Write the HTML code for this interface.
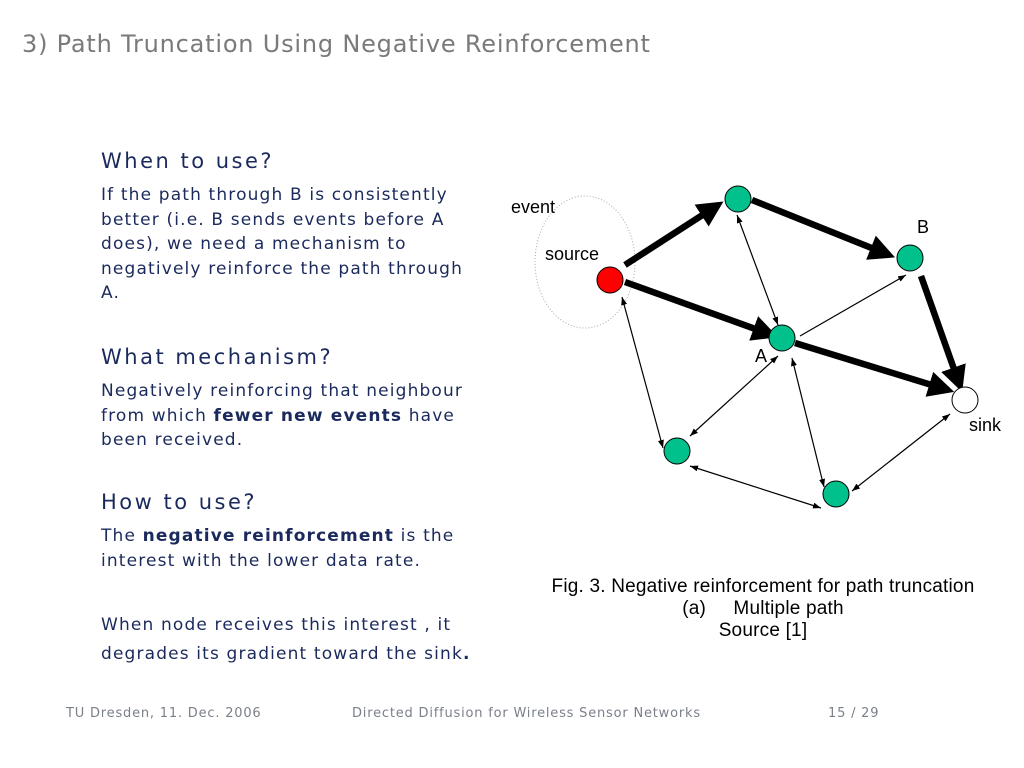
<!DOCTYPE html>
<html><head><meta charset="utf-8"><style>
body{margin:0;width:1024px;height:768px;background:#fff;position:relative;overflow:hidden;font-family:"DejaVu Sans","Liberation Sans",sans-serif;}
.t{position:absolute;white-space:nowrap;}
h1{position:absolute;left:22px;top:30px;margin:0;font-weight:normal;font-size:24px;color:#7a7a7a;letter-spacing:0.8px;}
.h{font-size:21px;color:#1b2a5c;letter-spacing:2.5px;}
.b{font-size:17px;color:#1b2a5c;line-height:24.5px;letter-spacing:1.15px;}
.f{font-size:13px;color:#7a7f8a;letter-spacing:0.8px;}
.d{font-family:"Liberation Sans",sans-serif;font-size:18px;color:#000;}
</style></head><body>
<h1>3) Path Truncation Using Negative Reinforcement</h1>
<div class="t h" style="left:101px;top:149px">When to use?</div>
<div class="t b" style="left:101px;top:183px">If the path through B is consistently<br>better (i.e. B sends events before A<br>does), we need a mechanism to<br>negatively reinforce the path through<br>A.</div>
<div class="t h" style="left:101px;top:345px">What mechanism?</div>
<div class="t b" style="left:101px;top:379px">Negatively reinforcing that neighbour<br>from which <b>fewer new events</b> have<br>been received.</div>
<div class="t h" style="left:101px;top:490px">How to use?</div>
<div class="t b" style="left:101px;top:524px">The <b>negative reinforcement</b> is the<br>interest with the lower data rate.</div>
<div class="t b" style="left:101px;top:611px;line-height:29px">When node receives this interest , it<br>degrades its gradient toward the sink<b>.</b></div>
<div class="t f" style="left:66px;top:706px">TU Dresden, 11. Dec. 2006</div>
<div class="t f" style="left:352px;top:706px">Directed Diffusion for Wireless Sensor Networks</div>
<div class="t f" style="left:828px;top:706px">15 / 29</div>
<svg width="1024" height="768" style="position:absolute;left:0;top:0">
<defs>
<marker id="big" markerWidth="4" markerHeight="4" refX="3" refY="2" orient="auto" markerUnits="strokeWidth"><path d="M0,0 L4,2 L0,4 z"/></marker>
<marker id="sm" markerWidth="8" markerHeight="6" refX="8" refY="3" orient="auto-start-reverse" markerUnits="userSpaceOnUse"><path d="M0,0 L8,3 L0,6 z"/></marker>
</defs>
<ellipse cx="585" cy="262" rx="50" ry="66" fill="none" stroke="#aaa" stroke-dasharray="1,2"/>
<g stroke="#000" stroke-width="1.2" fill="none">
<line x1="778" y1="325" x2="737" y2="215" marker-end="url(#sm)" marker-start="url(#sm)"/>
<line x1="800" y1="336" x2="906" y2="275" marker-end="url(#sm)"/>
<line x1="622" y1="297" x2="663" y2="448" marker-end="url(#sm)" marker-start="url(#sm)"/>
<line x1="690" y1="436" x2="778" y2="356" marker-end="url(#sm)" marker-start="url(#sm)"/>
<line x1="792" y1="358" x2="824" y2="487" marker-end="url(#sm)" marker-start="url(#sm)"/>
<line x1="690" y1="466" x2="821" y2="508" marker-end="url(#sm)" marker-start="url(#sm)"/>
<line x1="852" y1="491" x2="950" y2="414" marker-end="url(#sm)" marker-start="url(#sm)"/>
</g>
<g stroke="#000" stroke-width="6.5" fill="none">
<line x1="625" y1="265" x2="718" y2="205" marker-end="url(#big)"/>
<line x1="752" y1="200" x2="889" y2="255" marker-end="url(#big)"/>
<line x1="625" y1="282" x2="772" y2="335" marker-end="url(#big)"/>
<line x1="795" y1="343" x2="948" y2="390" marker-end="url(#big)"/>
<line x1="921" y1="276" x2="960" y2="386" marker-end="url(#big)"/>
</g>
<g stroke="#000" stroke-width="1">
<circle cx="738" cy="199" r="13" fill="#00c08b"/>
<circle cx="910" cy="258" r="13" fill="#00c08b"/>
<circle cx="610" cy="280" r="13" fill="#ff0000"/>
<circle cx="782" cy="338" r="13" fill="#00c08b"/>
<circle cx="965" cy="400" r="13" fill="#fff"/>
<circle cx="677" cy="451" r="13" fill="#00c08b"/>
<circle cx="836" cy="494" r="13" fill="#00c08b"/>
</g>
</svg>
<div class="t d" style="left:511px;top:197px">event</div>
<div class="t d" style="left:545px;top:244px">source</div>
<div class="t d" style="left:917px;top:217px">B</div>
<div class="t d" style="left:755px;top:346px">A</div>
<div class="t d" style="left:969px;top:415px">sink</div>
<div class="t d" style="left:513px;top:576px;width:500px;text-align:center;line-height:22px;font-size:19px;letter-spacing:0.2px">Fig. 3. Negative reinforcement for path truncation<br>(a)&nbsp;&nbsp;&nbsp;&nbsp; Multiple path<br>Source [1]</div>
</body></html>
